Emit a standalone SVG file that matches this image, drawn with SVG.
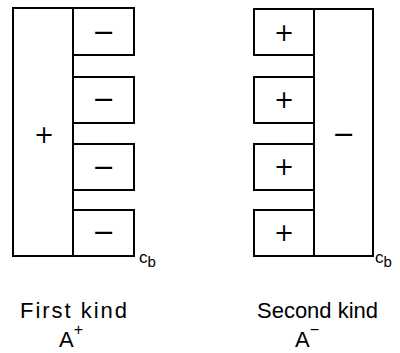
<svg xmlns="http://www.w3.org/2000/svg" width="400" height="353" viewBox="0 0 400 353">
<style>
.ln{fill:none;stroke:#000;stroke-width:2;stroke-linejoin:miter;stroke-linecap:square}
.sg{font-family:"DejaVu Sans",sans-serif;text-anchor:middle;fill:#000}
.pl{font-size:24px}
.mn{font-size:27px}
.lb{font-family:"Liberation Sans",Arial,sans-serif;font-size:22px;fill:#000}
.cb{font-family:"Liberation Sans",Arial,sans-serif;font-size:17px;fill:#000}
</style>
<rect width="400" height="353" fill="#fff"/>
<g id="first-kind">
  <g id="A-plus-body">
    <path class="ln" d="M13,8 H73 V256 H13 Z"/>
    <text class="sg pl" x="44" y="143">+</text>
  </g>
  <g id="minus-box-1"><rect class="ln" x="73" y="8" width="61" height="47"/><text class="sg mn" x="103.5" y="41">−</text></g>
  <g id="minus-box-2"><rect class="ln" x="73" y="77" width="61" height="46"/><text class="sg mn" x="103.5" y="108">−</text></g>
  <g id="minus-box-3"><rect class="ln" x="73" y="144" width="61" height="46"/><text class="sg mn" x="103.5" y="176">−</text></g>
  <g id="minus-box-4"><rect class="ln" x="73" y="210" width="61" height="46"/><text class="sg mn" x="103.5" y="241">−</text></g>
  <text class="cb" x="139" y="263">c<tspan font-size="15" dy="4">b</tspan></text>
  <text class="lb" x="20" y="318" textLength="107" lengthAdjust="spacing">First kind</text>
  <text class="lb" x="59" y="347">A<tspan font-size="16" dy="-12">+</tspan></text>
</g>
<g id="second-kind">
  <g id="A-minus-body">
    <path class="ln" d="M314,9 H373 V256 H314 Z"/>
    <text class="sg mn" x="343.5" y="143">−</text>
  </g>
  <g id="plus-box-1"><rect class="ln" x="254" y="9" width="60" height="46"/><text class="sg pl" x="284" y="41">+</text></g>
  <g id="plus-box-2"><rect class="ln" x="254" y="77" width="60" height="46"/><text class="sg pl" x="284" y="108">+</text></g>
  <g id="plus-box-3"><rect class="ln" x="254" y="144" width="60" height="46"/><text class="sg pl" x="284" y="175">+</text></g>
  <g id="plus-box-4"><rect class="ln" x="254" y="210" width="60" height="46"/><text class="sg pl" x="284" y="241">+</text></g>
  <text class="cb" x="375" y="263">c<tspan font-size="15" dy="4">b</tspan></text>
  <text class="lb" x="257" y="318" textLength="121" lengthAdjust="spacing">Second kind</text>
  <text class="lb" x="295" y="347">A<tspan font-size="16" dy="-12">−</tspan></text>
</g>
</svg>
